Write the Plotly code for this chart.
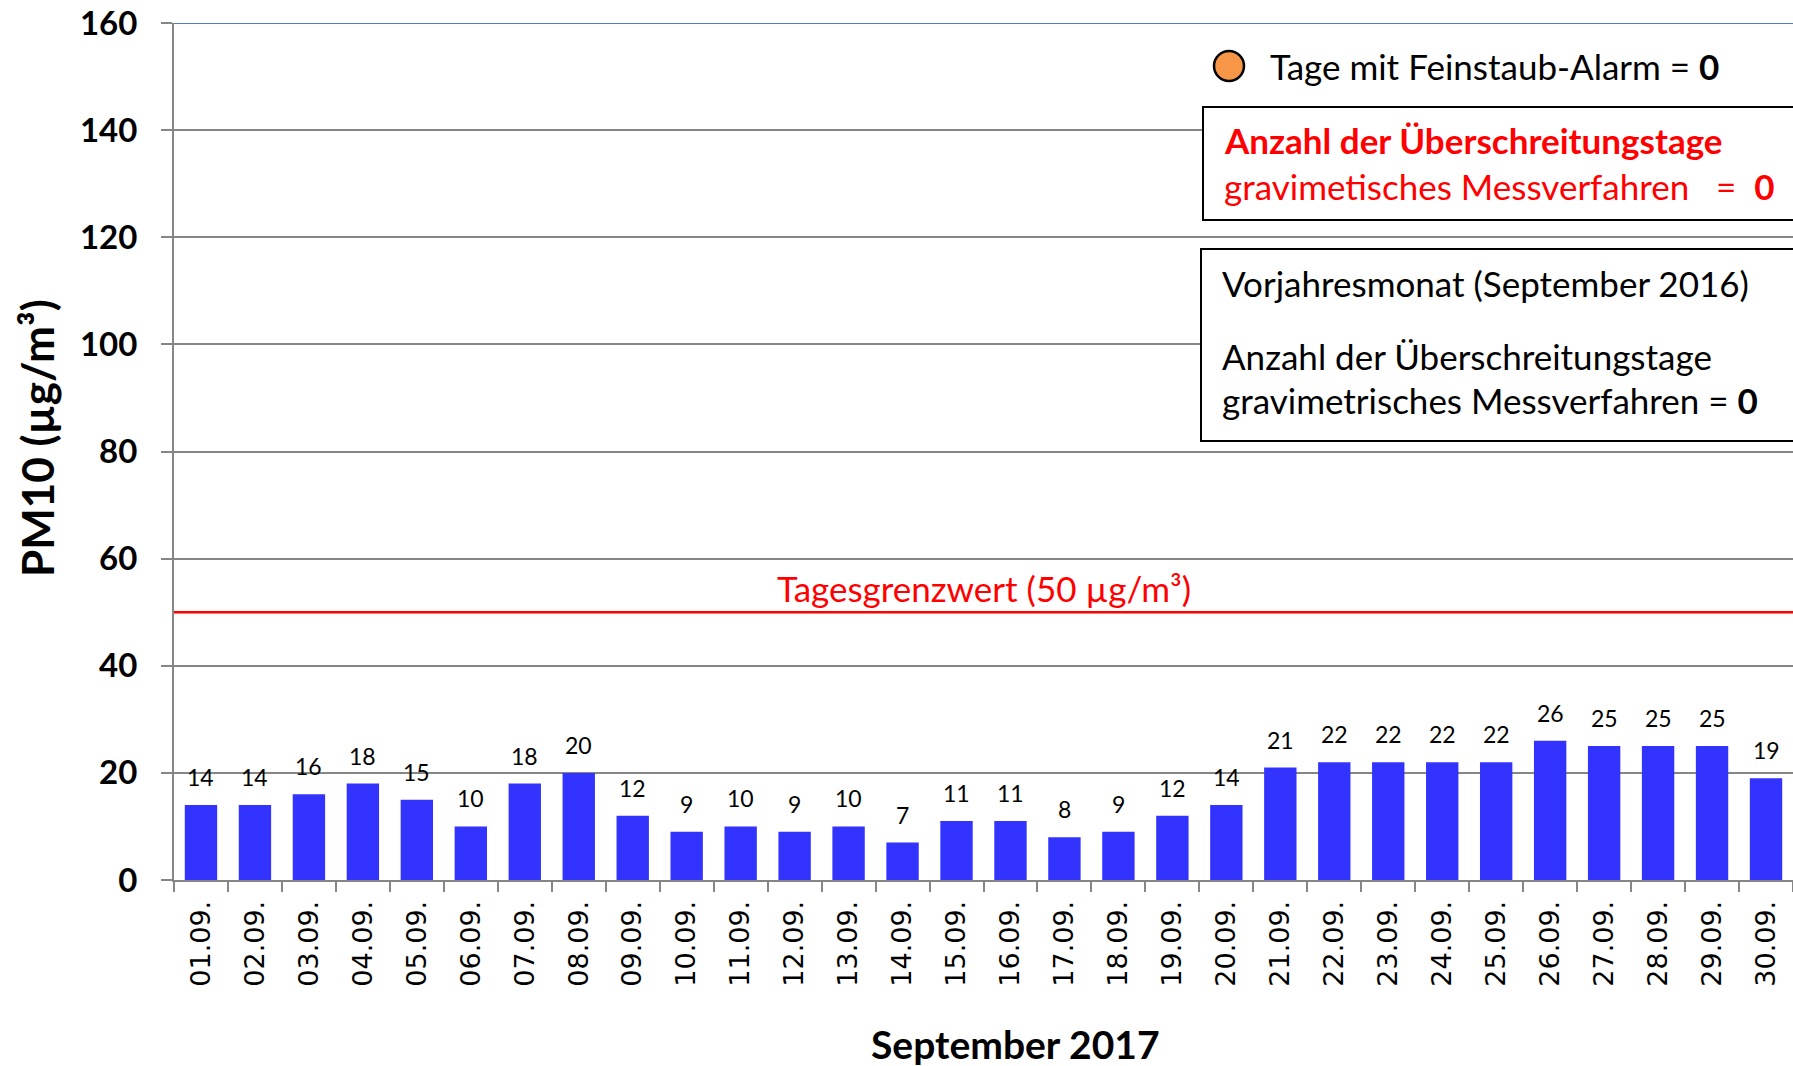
import plotly.graph_objects as go

days = [f"{d:02d}.09." for d in range(1, 31)]
pm10 = [14, 14, 16, 18, 15, 10, 18, 20, 12, 9, 10, 9, 10, 7, 11, 11, 8, 9, 12, 14,
        21, 22, 22, 22, 22, 26, 25, 25, 25, 19]
y_ticks = [0, 20, 40, 60, 80, 100, 120, 140, 160]
limit_value = 50
y_max = 160
alarm_days = 0
exceed_days = 0
exceed_days_prev = 0

# the page's default body margin is removed (see post_script), figure fills the window
OFF = 0
W, H = 1793 - OFF, 1066 - OFF
L, T, B, R = 174 - OFF, 23 - OFF, 186, 0
PW, PH = W - L - R, H - T - B


def px(x):
    """window pixel x -> paper coordinate"""
    return (x - OFF - L) / PW


def py(y):
    """window pixel y -> paper coordinate"""
    return (H - B - (y - OFF)) / PH


fig = go.Figure()
fig.add_trace(go.Bar(
    x=days, y=pm10, marker=dict(color="#3333FF", line=dict(width=0)),
    hoverinfo="x+y", showlegend=False,
))

annotations = []
for d, v in zip(days, pm10):
    annotations.append(dict(x=d, y=v, xref="x", yref="y", text=str(v), showarrow=False,
                            yanchor="bottom", yshift=12,
                            font=dict(family="Lato", size=23, color="black")))

BOX_FONT = 35
annotations += [
    dict(xref="paper", yref="y", x=0.5, y=limit_value, xanchor="center", yanchor="bottom", yshift=1,
         text=f"Tagesgrenzwert ({limit_value} µg/m³)", showarrow=False,
         font=dict(family="Lato", size=BOX_FONT, color="#FF0000")),
    dict(xref="paper", yref="paper", x=px(37), y=py(438), textangle=-90,
         xanchor="center", yanchor="middle",
         text="<b>PM10 (µg/m³)</b>", showarrow=False,
         font=dict(family="Lato", size=44, color="black")),
    dict(xref="paper", yref="paper", x=px(1015), y=py(1044), xanchor="center", yanchor="middle",
         text="<b>September 2017</b>", showarrow=False,
         font=dict(family="Lato", size=39, color="black")),
    dict(xref="paper", yref="paper", x=px(1268), y=py(66), xanchor="left", yanchor="middle",
         text=f"Tage mit Feinstaub-Alarm = <b>{alarm_days}</b>", showarrow=False,
         font=dict(family="Lato", size=BOX_FONT, color="black")),
    dict(xref="paper", yref="paper", x=px(1222), y=py(140), xanchor="left", yanchor="middle",
         text="<b>Anzahl der Überschreitungstage</b>", showarrow=False,
         font=dict(family="Lato", size=BOX_FONT, color="#FF0000")),
    dict(xref="paper", yref="paper", x=px(1222), y=py(186), xanchor="left", yanchor="middle",
         text=f"gravimetisches Messverfahren   =  <b>{exceed_days}</b>", showarrow=False,
         font=dict(family="Lato", size=BOX_FONT, color="#FF0000")),
    dict(xref="paper", yref="paper", x=px(1220), y=py(283), xanchor="left", yanchor="middle",
         text="Vorjahresmonat (September 2016)", showarrow=False,
         font=dict(family="Lato", size=BOX_FONT, color="black")),
    dict(xref="paper", yref="paper", x=px(1220), y=py(356), xanchor="left", yanchor="middle",
         text="Anzahl der Überschreitungstage", showarrow=False,
         font=dict(family="Lato", size=BOX_FONT, color="black")),
    dict(xref="paper", yref="paper", x=px(1220), y=py(400), xanchor="left", yanchor="middle",
         text=f"gravimetrisches Messverfahren = <b>{exceed_days_prev}</b>", showarrow=False,
         font=dict(family="Lato", size=BOX_FONT, color="black")),
]

shapes = [
    dict(type="line", xref="paper", yref="y", x0=0, x1=1, y0=limit_value, y1=limit_value,
         line=dict(color="#FF0000", width=2.5), layer="above"),
    dict(type="line", xref="paper", yref="y", x0=0, x1=1, y0=y_max, y1=y_max,
         line=dict(color="#4F81BD", width=2), layer="above"),
    dict(type="rect", xref="paper", yref="paper", x0=px(1203), x1=1.05, y0=py(220), y1=py(107),
         line=dict(color="black", width=2), fillcolor="white", layer="above"),
    dict(type="rect", xref="paper", yref="paper", x0=px(1201), x1=1.05, y0=py(441), y1=py(249),
         line=dict(color="black", width=2), fillcolor="white", layer="above"),
    dict(type="circle", xref="paper", yref="paper", xsizemode="pixel", ysizemode="pixel",
         xanchor=px(1229), yanchor=py(66), x0=-15, x1=15, y0=-15, y1=15,
         line=dict(color="black", width=2.5), fillcolor="#F79646", layer="above"),
]

fig.update_layout(
    width=W, height=H,
    margin=dict(l=L, r=R, t=T, b=B, autoexpand=False),
    paper_bgcolor="white", plot_bgcolor="white",
    bargap=0.4,
    annotations=annotations,
    shapes=shapes,
    xaxis=dict(
        type="category", tickangle=-90, tickson="boundaries", automargin=False,
        ticks="outside", ticklen=10, tickwidth=2, tickcolor="#868686",
        showline=True, linecolor="#868686", linewidth=2,
        showgrid=False,
        tickfont=dict(family="DejaVu Sans", size=27, color="black"),
        ticklabelstandoff=8, ticklabeloverflow="allow",
    ),
    yaxis=dict(
        range=[0, y_max], tickvals=y_ticks, ticktext=[str(v) for v in y_ticks],
        automargin=False,
        ticks="outside", ticklen=11, tickwidth=2, tickcolor="#868686",
        showline=True, linecolor="#868686", linewidth=2,
        showgrid=True, gridcolor="#868686", gridwidth=2,
        zeroline=False,
        tickfont=dict(family="Lato", size=33, color="black", weight="bold"),
        ticklabelstandoff=17, ticklabeloverflow="allow",
    ),
)

fig.write_html(
    "out.html",
    config={"displayModeBar": False},
    post_script="document.body.style.margin='0px';document.body.style.overflow='hidden';",
)
